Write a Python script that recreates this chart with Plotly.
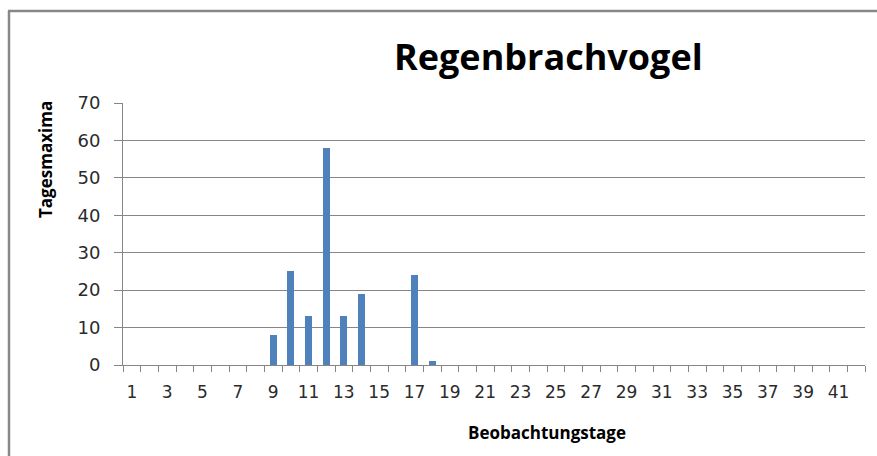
import plotly.graph_objects as go

days = list(range(1, 43))
values = [0]*8 + [8, 25, 13, 58, 13, 19, 0, 0, 24, 1] + [0]*24
y_ticks = [0, 10, 20, 30, 40, 50, 60, 70]
x_ticks = list(range(1, 42, 2))

W, H = 877, 456
L, R, T, B = 123, 12, 103, 91
pw, ph = W - L - R, H - T - B

def px(x):
    return (x - L) / pw

def py(y):
    return 1 - (y - T) / ph

fig = go.Figure(go.Bar(x=days, y=[v if v > 0 else None for v in values],
                       marker=dict(color="#4F81BD", line=dict(width=0)), width=0.4))

bold_font = "'Open Sans', sans-serif"
tick_font = "'DejaVu Sans', sans-serif"
fig.update_layout(
    width=W, height=H, margin=dict(l=L, r=R, t=T, b=B),
    paper_bgcolor="white", plot_bgcolor="white", showlegend=False,
    font=dict(family=tick_font, color="#1a1a1a"),
    bargap=0,
)
fig.update_xaxes(range=[0.5, 42.5], tickmode="array", tickvals=x_ticks,
                 ticktext=[str(t) for t in x_ticks], ticks="", showgrid=False,
                 showline=True, linecolor="#868686", linewidth=1,
                 ticklabelstandoff=12,
                 tickfont=dict(size=17, color="#2b2b2b", family=tick_font), zeroline=False,
                 minor=dict(tickmode="array", tickvals=[i + 0.5 for i in range(0, 43)],
                            ticks="outside", ticklen=6, tickcolor="#868686", showgrid=False))
fig.update_yaxes(range=[0, 70], tickvals=y_ticks, showgrid=True, gridcolor="#868686",
                 gridwidth=1, showline=True, linecolor="#868686", linewidth=1,
                 ticks="outside", ticklen=8, tickcolor="#868686",
                 ticklabelstandoff=10,
                 tickfont=dict(size=18, color="#2b2b2b", family=tick_font), zeroline=False)

ann = dict(xref="paper", yref="paper", showarrow=False, xanchor="center", yanchor="middle")
fig.add_annotation(text="<b>Regenbrachvogel</b>", x=px(548), y=py(56),
                   font=dict(size=36, color="black", family=bold_font), **ann)
fig.add_annotation(text="<b>Tagesmaxima</b>", x=px(45), y=py(160), textangle=-90,
                   font=dict(size=17, color="black", family=bold_font), **ann)
fig.add_annotation(text="<b>Beobachtungstage</b>", x=px(547), y=py(432),
                   font=dict(size=17, color="black", family=bold_font), **ann)

# outer frame (left and top edges visible)
fig.add_shape(type="line", xref="paper", yref="paper", x0=px(9), x1=px(9), y0=py(470), y1=py(11),
              line=dict(color="#888888", width=2.5))
fig.add_shape(type="line", xref="paper", yref="paper", x0=px(8), x1=px(890), y0=py(11), y1=py(11),
              line=dict(color="#888888", width=2.5))

fig.write_html("out.html", config={"displayModeBar": False},
               post_script="document.body.style.margin='0';document.body.style.overflow='hidden';")
